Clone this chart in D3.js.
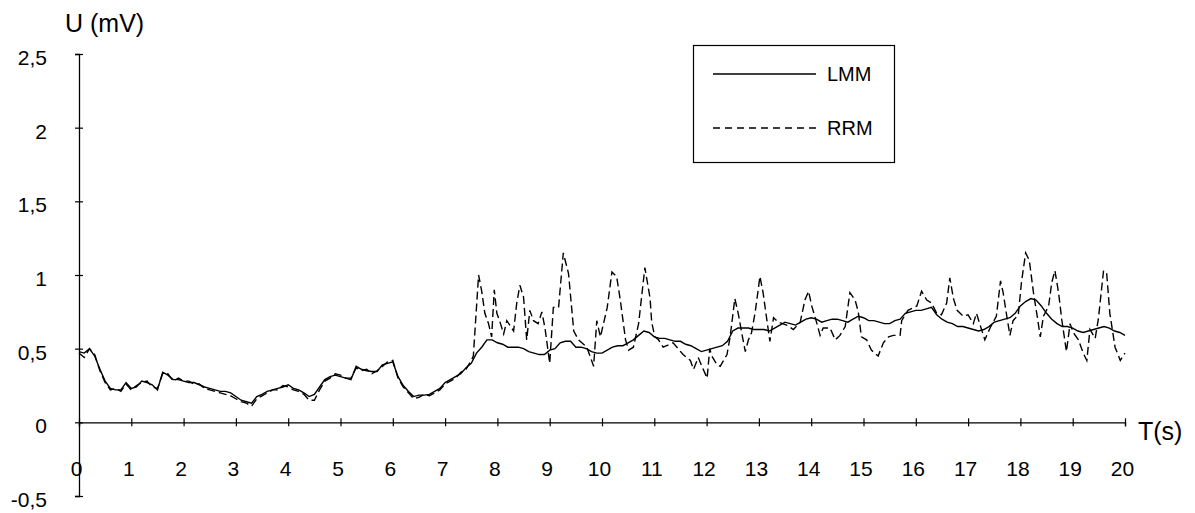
<!DOCTYPE html>
<html>
<head>
<meta charset="utf-8">
<script src="https://cdn.jsdelivr.net/npm/d3@7"></script>
<style>
  html, body { margin: 0; padding: 0; background: #ffffff; }
  svg { display: block; font-family: "Liberation Sans", Arial, sans-serif; }
</style>
</head>
<body>
<svg id="chart" width="1195" height="513"></svg>
<script>
// ---- data ----
const lmmStep = 0.1; // LMM sampled every 0.1 s from 0 to 20 s
const lmmValues = [
  0.48,0.47,0.50,0.45,0.36,0.28,0.23,0.22,0.22,0.27,
  0.23,0.24,0.28,0.27,0.255,0.22,0.34,0.32,0.29,0.29,
  0.28,0.27,0.27,0.255,0.24,0.23,0.22,0.21,0.21,0.20,
  0.175,0.15,0.14,0.13,0.175,0.19,0.21,0.22,0.23,0.24,
  0.255,0.23,0.22,0.20,0.175,0.19,0.24,0.29,0.31,0.32,
  0.31,0.30,0.29,0.38,0.36,0.35,0.345,0.345,0.39,0.40,
  0.41,0.31,0.25,0.21,0.175,0.185,0.185,0.19,0.21,0.23,
  0.27,0.29,0.31,0.33,0.37,0.40,0.47,0.51,0.56,0.56,
  0.54,0.53,0.51,0.51,0.51,0.50,0.48,0.47,0.46,0.46,
  0.49,0.50,0.54,0.55,0.55,0.51,0.51,0.50,0.48,0.47,
  0.47,0.49,0.51,0.52,0.52,0.54,0.56,0.59,0.62,0.61,
  0.58,0.57,0.57,0.56,0.55,0.55,0.53,0.52,0.50,0.48,
  0.49,0.50,0.51,0.52,0.55,0.62,0.64,0.64,0.64,0.63,
  0.63,0.63,0.62,0.64,0.66,0.68,0.67,0.66,0.68,0.70,
  0.71,0.70,0.68,0.69,0.70,0.70,0.69,0.68,0.70,0.72,
  0.71,0.69,0.69,0.68,0.67,0.67,0.69,0.70,0.74,0.75,
  0.76,0.76,0.77,0.78,0.73,0.70,0.68,0.67,0.65,0.65,
  0.64,0.63,0.62,0.63,0.65,0.68,0.69,0.70,0.71,0.74,
  0.79,0.82,0.84,0.83,0.79,0.74,0.70,0.67,0.65,0.65,
  0.64,0.62,0.61,0.62,0.63,0.64,0.65,0.64,0.62,0.61,
  0.59
];

const rrmTimes = [
  0.0,0.1,0.2,0.3,0.4,0.5,0.6,0.7,0.8,0.9,
  1.0,1.1,1.2,1.3,1.4,1.5,1.6,1.7,1.8,1.9,
  2.0,2.1,2.2,2.3,2.4,2.5,2.6,2.7,2.8,2.9,
  3.0,3.1,3.2,3.3,3.4,3.5,3.6,3.7,3.8,3.9,
  4.0,4.1,4.2,4.3,4.4,4.5,4.6,4.7,4.8,4.9,
  5.0,5.1,5.2,5.3,5.4,5.5,5.6,5.7,5.8,5.9,
  6.0,6.1,6.2,6.3,6.4,6.5,6.6,6.7,6.8,6.9,
  7.0,7.1,7.2,7.3,7.4,7.5,
  7.54,7.64,7.70,7.76,7.83,7.89,7.94,7.99,8.05,8.12,8.18,8.31,8.37,8.43,8.50,8.56,8.62,8.69,8.78,8.85,8.91,
  9.00,9.07,9.17,9.26,9.36,9.46,9.55,9.71,9.84,9.90,9.97,
  10.10,10.19,10.28,10.35,10.45,10.51,10.60,10.70,10.76,10.82,10.92,10.95,
  11.01,11.08,11.17,11.36,11.55,11.69,11.75,11.84,11.91,
  12.01,12.06,12.10,12.20,12.26,12.39,12.45,12.54,12.61,12.67,12.74,12.80,12.86,12.93,
  13.02,13.08,13.15,13.21,13.28,13.37,13.53,13.66,13.79,13.88,13.95,
  14.01,14.11,14.17,14.23,14.36,14.46,14.55,14.65,14.74,14.84,14.90,14.96,
  15.06,15.15,15.28,15.38,15.48,15.57,15.70,15.73,15.85,
  16.02,16.11,16.21,16.30,16.40,16.49,16.59,16.65,16.72,16.79,16.91,
  17.00,17.10,17.16,17.23,17.32,17.42,17.54,17.62,17.67,17.74,17.80,17.86,17.96,
  18.02,18.10,18.17,18.25,18.33,18.38,18.44,18.54,18.60,18.66,18.73,18.79,18.88,18.95,
  19.01,19.11,19.20,19.27,19.33,19.43,19.49,19.59,19.65,19.71,19.81,19.91,20.00
];
const rrmValues = [
  0.47,0.44,0.50,0.46,0.35,0.27,0.22,0.23,0.21,0.26,
  0.22,0.25,0.27,0.28,0.24,0.23,0.33,0.33,0.28,0.30,
  0.28,0.28,0.26,0.26,0.23,0.22,0.21,0.20,0.19,0.18,
  0.16,0.14,0.13,0.11,0.16,0.18,0.20,0.22,0.22,0.25,
  0.24,0.22,0.21,0.19,0.15,0.15,0.22,0.28,0.30,0.33,
  0.32,0.30,0.30,0.37,0.35,0.36,0.33,0.35,0.38,0.41,
  0.42,0.30,0.24,0.20,0.16,0.17,0.19,0.18,0.20,0.22,
  0.26,0.28,0.30,0.34,0.36,0.42,
  0.45,1.00,0.89,0.74,0.67,0.58,0.90,0.74,0.68,0.60,0.69,0.62,0.81,0.93,0.85,0.56,0.76,0.69,0.67,0.75,0.64,
  0.40,0.78,0.78,1.15,1.01,0.62,0.56,0.51,0.38,0.69,0.58,
  0.78,1.02,0.99,0.83,0.56,0.49,0.51,0.67,0.86,1.05,0.84,0.68,
  0.58,0.56,0.51,0.54,0.46,0.42,0.36,0.44,0.38,
  0.30,0.50,0.45,0.39,0.38,0.46,0.58,0.84,0.73,0.61,0.48,0.56,0.61,0.75,
  0.99,0.88,0.70,0.55,0.71,0.68,0.66,0.63,0.68,0.83,0.89,
  0.79,0.67,0.59,0.64,0.64,0.56,0.59,0.65,0.88,0.83,0.75,0.58,
  0.56,0.49,0.45,0.54,0.58,0.59,0.59,0.69,0.76,
  0.79,0.89,0.83,0.81,0.74,0.73,0.81,0.98,0.84,0.76,0.72,
  0.73,0.67,0.74,0.66,0.56,0.64,0.72,0.96,0.88,0.72,0.59,0.69,0.73,
  0.95,1.15,1.10,0.88,0.70,0.58,0.72,0.79,0.95,1.03,0.88,0.70,0.48,0.67,
  0.61,0.56,0.47,0.42,0.63,0.57,0.70,1.03,1.01,0.74,0.51,0.42,0.47
];

const seriesNames = ["LMM", "RRM"];
const xTickValues = [0,1,2,3,4,5,6,7,8,9,10,11,12,13,14,15,16,17,18,19,20];
const yTickValues = [-0.5,0,0.5,1,1.5,2,2.5];
const yTickLabels = ["-0,5","0","0,5","1","1,5","2","2,5"];
const xTitle = "T(s)";
const yTitle = "U (mV)";

// ---- drawing ----
const svg = d3.select("#chart");
const x = d3.scaleLinear().domain([0, 20]).range([79, 1125]);
const y = d3.scaleLinear().domain([-0.5, 2.5]).range([496, 54]);

// x axis at y = 0
const xAxis = svg.append("g")
  .attr("transform", `translate(0,${y(0)})`)
  .call(d3.axisBottom(x).tickValues(xTickValues).tickSizeOuter(0).tickSize(4)
        .tickFormat(d => String(d)));
xAxis.select(".domain").attr("stroke", "#000").attr("stroke-width", 1.3);
xAxis.selectAll(".tick line").attr("y1", -4).attr("y2", 4).attr("stroke", "#000").attr("stroke-width", 1.2);
xAxis.selectAll(".tick text")
  .attr("y", 54).attr("dy", 0).attr("dx", -3)
  .attr("font-size", 21).attr("fill", "#000")
  .attr("font-family", "Liberation Sans, Arial, sans-serif");

// y axis
const yAxis = svg.append("g")
  .attr("transform", `translate(${x(0)},0)`)
  .call(d3.axisLeft(y).tickValues(yTickValues).tickSizeOuter(0).tickSize(4)
        .tickFormat((d, i) => yTickLabels[i]));
yAxis.select(".domain").attr("stroke", "#000").attr("stroke-width", 1.3);
yAxis.selectAll(".tick line").attr("x1", -4).attr("x2", 4).attr("stroke", "#000").attr("stroke-width", 1.2);
yAxis.selectAll(".tick text")
  .attr("x", -32).attr("dy", "0.5em")
  .attr("font-size", 21).attr("fill", "#000")
  .attr("font-family", "Liberation Sans, Arial, sans-serif");

// axis titles
svg.append("text").attr("x", 65).attr("y", 32)
  .attr("font-size", 25).attr("fill", "#000").text(yTitle);
svg.append("text").attr("x", 1138).attr("y", 440)
  .attr("font-size", 25).attr("fill", "#000").text(xTitle);

// lines
const lmmData = lmmValues.map((v, i) => [i * lmmStep, v]);
const rrmData = rrmTimes.map((t, i) => [t, rrmValues[i]]);
const line = d3.line().x(d => x(d[0])).y(d => y(d[1]));

svg.append("path").datum(rrmData)
  .attr("d", line).attr("fill", "none")
  .attr("stroke", "#000").attr("stroke-width", 1.4)
  .attr("stroke-dasharray", "8,4");
svg.append("path").datum(lmmData)
  .attr("d", line).attr("fill", "none")
  .attr("stroke", "#000").attr("stroke-width", 1.4);

// legend
const lg = svg.append("g");
lg.append("rect").attr("x", 693.5).attr("y", 45.5).attr("width", 201).attr("height", 117)
  .attr("fill", "#fff").attr("stroke", "#000").attr("stroke-width", 1.2);
const legendRows = [{name: seriesNames[0], dash: null, y: 74}, {name: seriesNames[1], dash: "7,5", y: 128}];
legendRows.forEach(r => {
  const l = lg.append("line").attr("x1", 713).attr("x2", 816).attr("y1", r.y).attr("y2", r.y)
    .attr("stroke", "#000").attr("stroke-width", 1.3);
  if (r.dash) l.attr("stroke-dasharray", r.dash);
  lg.append("text").attr("x", 827).attr("y", r.y).attr("dy", "0.36em")
    .attr("font-size", 20).attr("fill", "#000").text(r.name);
});
</script>
</body>
</html>
